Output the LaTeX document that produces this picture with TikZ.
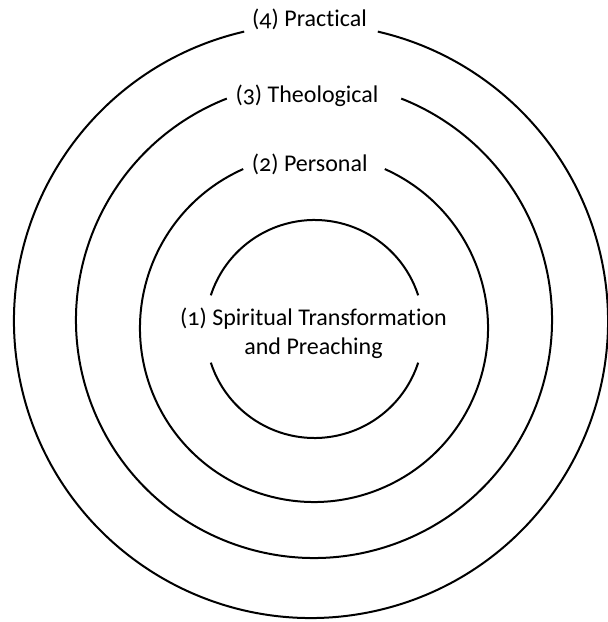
\documentclass[tikz,border=0pt]{standalone}
\usepackage{fontspec}
\setmainfont{Carlito}[Numbers=OldStyle, Ligatures=NoCommon]

\begin{document}
\begin{tikzpicture}[
  x=1pt, y=1pt,
  ring/.style={line width=2pt, black},
  lbl/.style={font=\fontsize{24}{28.7}\selectfont, inner sep=0pt},
]
\useasboundingbox (0,0) rectangle (608,622);

%% ---- ring centres ----
\coordinate (c4) at (311,301);
\coordinate (c3) at (314,302);
\coordinate (c2) at (314,294);
\coordinate (c1) at (314.5,293);

%% ---- ring 4: practical ----
\draw[ring] ([shift={(103:297)}]c4) arc[start angle=103, end angle=437, radius=297];
\node[lbl, anchor=base] (practical) at (309.5,595.3) {(4) Practical};

%% ---- ring 3: theological ----
\draw[ring] ([shift={(111.5:238)}]c3) arc[start angle=111.5, end angle=428.5, radius=238];
\node[lbl, anchor=base] (theological) at (307,519.3) {(3) Theological};

%% ---- ring 2: personal ----
\draw[ring] ([shift={(114:174)}]c2) arc[start angle=114, end angle=426, radius=174];
\node[lbl, anchor=base] (personal) at (309.7,450.3) {(2) Personal};

%% ---- ring 1: core, split left and right ----
\draw[ring] ([shift={(18:109)}]c1) arc[start angle=18, end angle=162, radius=109];
\draw[ring] ([shift={(198:109)}]c1) arc[start angle=198, end angle=342, radius=109];
\node[lbl, align=center] (core) at (313.5,289) {(1) Spiritual Transformation\\and Preaching};

\end{tikzpicture}
\end{document}
